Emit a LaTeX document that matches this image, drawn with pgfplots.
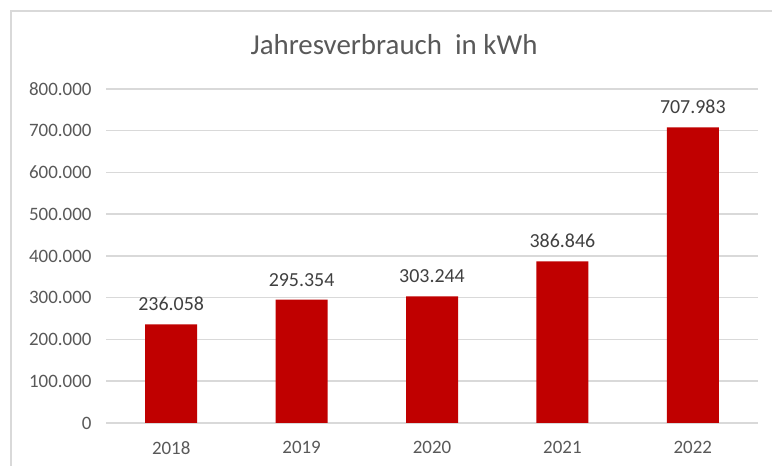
\documentclass[border=0pt]{standalone}
\usepackage{pgfplots}
\pgfplotsset{compat=1.18}
\usepackage{fontspec}
\setmainfont{Carlito}
\definecolor{barred}{HTML}{C00000}
\definecolor{gridc}{HTML}{D9D9D9}
\definecolor{tickc}{HTML}{595959}
\definecolor{labc}{HTML}{404040}
\pgfplotstableread{
x y lab
0 236058 236.058
1 295354 295.354
2 303244 303.244
3 386846 386.846
4 707983 707.983
}\datatab
\begin{document}
\begin{tikzpicture}[x=1bp,y=1bp]
\useasboundingbox (0,0) rectangle (772,466);
\fill[white] (0,0) rectangle (772,466);
\draw[gridc, line width=2.5bp] (11,0) -- (11,455) -- (772,455);
\node[text=tickc, font=\fontsize{29}{34}\selectfont] at (394,421) {Jahresverbrauch\ \ in kWh};
\begin{axis}[
  at={(106bp,43bp)}, anchor=south west,
  scale only axis, width=652bp, height=334bp,
  xmin=-0.5, xmax=4.5, ymin=0, ymax=800000,
  axis line style={draw=none},
  major tick length=0pt,
  ymajorgrids, grid style={gridc, line width=1.5bp},
  ytick={0,100000,200000,300000,400000,500000,600000,700000,800000},
  yticklabels={0,100.000,200.000,300.000,400.000,500.000,600.000,700.000,800.000},
  xtick={0,1,2,3,4},
  xticklabels={2018,2019,2020,2021,2022},
  scaled y ticks=false,
  tick label style={text=tickc, font=\fontsize{19}{22}\selectfont},
  yticklabel style={xshift=-11bp},
  xticklabel style={yshift=-15bp},
  ybar, bar width=52bp,
  nodes near coords,
  point meta=explicit symbolic,
  every node near coord/.append style={text=labc, font=\fontsize{20}{24}\selectfont, yshift=10bp},
  clip=false,
]
\addplot[fill=barred, draw=none] table[x=x, y=y, meta=lab] {\datatab};
\end{axis}
\end{tikzpicture}
\end{document}
